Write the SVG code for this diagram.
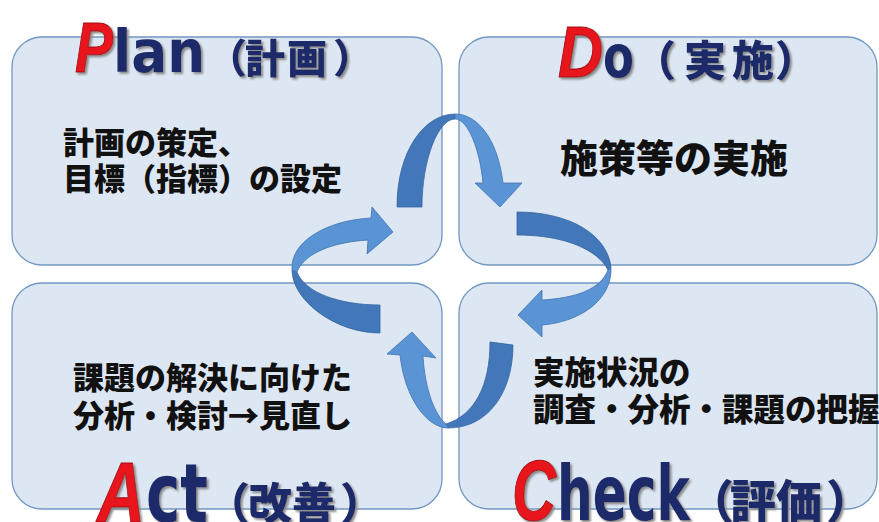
<svg xmlns="http://www.w3.org/2000/svg" width="879" height="522" viewBox="0 0 879 522">
<defs>
<style>
.box{fill:#dde7f3;stroke:#7398c4;stroke-width:1.3}
.cap{font-family:"Liberation Sans",sans-serif;font-weight:bold;font-style:italic;fill:#e8141c;stroke:#a50f15;stroke-width:1}
.low{font-family:"DejaVu Sans",sans-serif;font-weight:bold;fill:#1b296a}
.kj{font-family:"Noto Sans CJK JP",sans-serif;font-weight:900;fill:#1b296a}
.body{font-family:"Noto Sans CJK JP",sans-serif;font-weight:900;fill:#111}
.dk{fill:#4277b9;stroke:#34649f;stroke-width:0.8}
.lt{fill:#5b94d4;stroke:#3f74b0;stroke-width:0.8}
</style>
<filter id="sh" x="-10%" y="-20%" width="130%" height="150%">
<feDropShadow dx="2" dy="2" stdDeviation="0.8" flood-color="#8a8a8a"/>
</filter>
</defs>
<rect width="879" height="522" fill="#ffffff"/>

<g id="plan">
<rect class="box" x="12" y="37" width="430" height="228" rx="30"/>
<text y="72" filter="url(#sh)"><tspan class="cap" x="75" font-size="70" textLength="38" lengthAdjust="spacingAndGlyphs">P</tspan><tspan class="low" x="113" font-size="58" textLength="92" lengthAdjust="spacingAndGlyphs">lan</tspan><tspan class="kj" x="207 245 287 333" y="73" font-size="40">（計画）</tspan></text>
<text class="body" font-size="31"><tspan x="63" y="154">計画の策定、</tspan><tspan x="63" y="190">目標（指標）の設定</tspan></text>
</g>

<g id="do">
<rect class="box" x="459" y="37" width="418" height="228" rx="30"/>
<text y="77" filter="url(#sh)"><tspan class="cap" x="558" font-size="72" textLength="45" lengthAdjust="spacingAndGlyphs">D</tspan><tspan class="low" x="603" font-size="58" textLength="31" lengthAdjust="spacingAndGlyphs">o</tspan><tspan class="kj" x="634 684 732 775" y="76" font-size="42">（実施）</tspan></text>
<text class="body" font-size="38" x="560" y="172">施策等の実施</text>
</g>

<g id="act">
<rect class="box" x="12" y="283" width="430" height="226" rx="30"/>
<text class="body" font-size="31"><tspan x="73" y="389">課題の解決に向けた</tspan><tspan x="73" y="427">分析・検討→見直し</tspan></text>
<text y="522" filter="url(#sh)"><tspan class="cap" x="97" font-size="86" textLength="48" lengthAdjust="spacingAndGlyphs">A</tspan><tspan class="low" x="146" font-size="82" textLength="62" lengthAdjust="spacingAndGlyphs">ct</tspan><tspan class="kj" x="206 248 292 340" y="520" font-size="44">（改善）</tspan></text>
</g>

<g id="check">
<rect class="box" x="459" y="283" width="418" height="226" rx="30"/>
<text class="body" font-size="31.5"><tspan x="533" y="384">実施状況の</tspan><tspan x="533" y="421">調査・分析・課題の把握</tspan></text>
<text y="520" filter="url(#sh)"><tspan class="cap" x="512" font-size="86" textLength="44" lengthAdjust="spacingAndGlyphs">C</tspan><tspan class="low" x="557" font-size="76" textLength="133" lengthAdjust="spacingAndGlyphs">heck</tspan><tspan class="kj" x="688 730 776 826" y="518" font-size="46">（評価）</tspan></text>
</g>

<g id="connectors">
<path class="dk" d="M397,207 C397,150 425,114 455,114 L455,119 C438,119 422,160 422,207 Z"/>
<path class="lt" d="M455,114 C478,114 498,140 503,183 L522,183 L500,207 L475,183 L483,183 C480,150 468,119 455,119 Z"/>
<path class="dk" d="M517,212 C570,212 608,235 611,268 L608,270 C598,250 565,235 517,235 Z"/>
<path class="lt" d="M611,268 C612,300 580,322 542,325 L542,337 L518,315 L542,290 L542,300 C575,298 600,290 608,270 Z"/>
<path class="dk" d="M513,345 C513,390 490,428 448,428 L446,424 C475,415 490,385 490,342 Z"/>
<path class="lt" d="M448,428 C428,428 405,400 400,355 L387,354 L412,332 L436,358 L423,356 C425,390 435,415 446,424 Z"/>
<path class="dk" d="M380,333 C335,333 292,300 292,270 L297,272 C305,293 340,305 380,305 Z"/>
<path class="lt" d="M292,270 C290,240 330,220 371,218 L372,207 L393,232 L367,254 L368,240 C335,242 305,252 297,272 Z"/>
</g>
</svg>
